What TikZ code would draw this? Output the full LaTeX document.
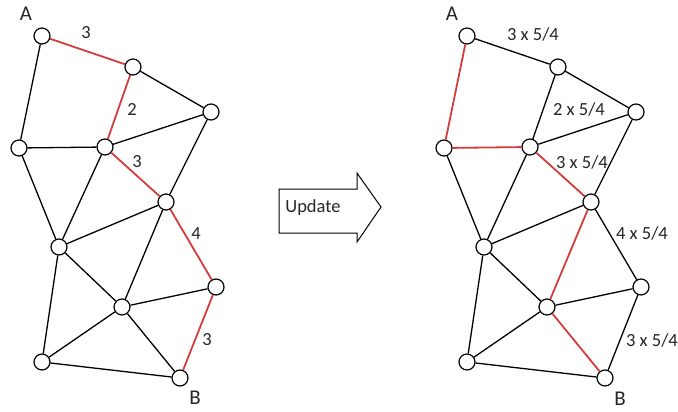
\documentclass[tikz,border=0pt]{standalone}
\usepackage{fontspec}
\setmainfont{Carlito}
\usetikzlibrary{arrows}

\begin{document}
\begin{tikzpicture}[x=1pt, y=-1pt,
    %Option for the graph
    vertex/.style={circle, draw, fill=white, line width=1.2pt, minimum size=16pt, inner sep=0pt},
    edge/.style={line width=1.3pt, color=#1},
    weight/.style={font=\fontsize{18.5}{22}\selectfont, text=black!85, inner sep=0pt},
    endpoint/.style={font=\fontsize{21}{24}\selectfont, text=black!85, inner sep=0pt},
]
    % Colors
    \definecolor{pathred}{RGB}{214,60,60}

    % Frame
    \useasboundingbox (0,0) rectangle (678,412);

    % Vertices, left (l) and right (r) graph
    \foreach \n/\x/\y in {A/42/36, b/133/67, c/211/112, d/105/147, e/19/148, f/166/202,
                          g/59/247, h/122/307, i/216/287, j/42/362, B/180/378} {
        \node[vertex] (l\n) at (\x,\y) {};
        \node[vertex] (r\n) at (\x+425,\y) {};
    }

    %Edges before update
    \foreach \u/\v in {A/e, b/c, c/d, d/e, c/f, e/g, d/g, f/g, f/h, g/h, g/j, h/i, h/j, j/B, h/B}
        \draw[edge=black] (l\u) -- (l\v);
    \foreach \u/\v in {A/b, b/d, d/f, f/i, i/B}
        \draw[edge=pathred, line width=1.8pt] (l\u) -- (l\v);

    %Edges after update
    \foreach \u/\v in {A/b, b/d, b/c, c/d, c/f, e/g, d/g, f/g, f/i, g/h, g/j, h/i, h/j, j/B, i/B}
        \draw[edge=black] (r\u) -- (r\v);
    \foreach \u/\v in {A/e, e/d, d/f, f/h, h/B}
        \draw[edge=pathred, line width=1.8pt] (r\u) -- (r\v);

    % Labels
    \node[endpoint] (lA label) at (26,14) {A};
    \node[endpoint] (lB label) at (195,398) {B};
    \node[endpoint] (rA label) at (452,14) {A};
    \node[endpoint] (rB label) at (620,399) {B};

    \node[weight] (lw1) at (86,33) {3};
    \node[weight] (lw2) at (132,109) {2};
    \node[weight] (lw3) at (137,162) {3};
    \node[weight] (lw4) at (196,234) {4};
    \node[weight] (lw5) at (207,340) {3};

    \node[weight] (rw1) at (533,34) {3 x 5/4};
    \node[weight] (rw2) at (579,109) {2 x 5/4};
    \node[weight] (rw3) at (582,162) {3 x 5/4};
    \node[weight] (rw4) at (642,233) {4 x 5/4};
    \node[weight] (rw5) at (652,340) {3 x 5/4};

    %Update arrow
    \draw[line width=1pt, line join=miter]
        (279,189) -- (357,189) -- (357,173) -- (381,207) -- (357,242)
        -- (357,233) -- (279,233) -- cycle;
    \node[weight] (update) at (313,208) {Update};
\end{tikzpicture}
\end{document}
